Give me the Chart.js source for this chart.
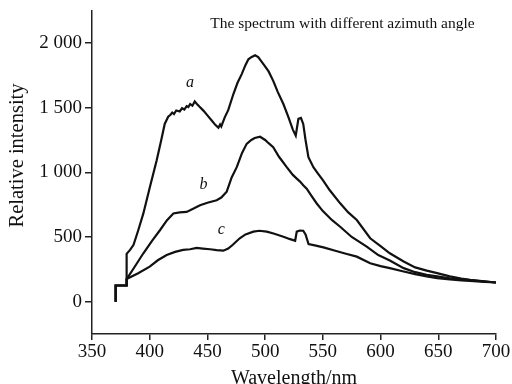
<!DOCTYPE html>
<html>
<head>
<meta charset="utf-8">
<script src="https://cdn.jsdelivr.net/npm/chart.js@4.4.0/dist/chart.umd.min.js"></script>
<style>
  html, body { margin: 0; padding: 0; background: #fff; }
  #wrap { width: 512px; height: 384px; }
</style>
</head>
<body>
<div id="wrap"><canvas id="spectrum" width="512" height="384"></canvas></div>
<script>
// Wavelength (nm) / relative intensity
const waveA = [370.5, 370.5, 380, 380, 383, 386, 390, 394.5, 400, 406, 410, 413, 416, 418, 419.5, 421, 423, 426, 428, 430, 432, 433.5, 435, 437, 439, 440.7, 443, 446.5, 450, 453.7, 457, 459.5, 461, 462, 465, 468, 472.5, 476, 479.7, 483, 485.5, 488, 491.3, 494, 498.5, 503, 507, 511, 515.8, 520, 524, 526.5, 528.8, 531, 533, 535, 537.5, 541.8, 545, 550, 556, 565, 572, 579.4, 591, 600, 608, 620, 630, 640, 649, 660, 670, 677.5, 690, 700];
const intensityA = [0, 125, 125, 370, 400, 440, 550, 682, 880, 1092, 1250, 1374, 1430, 1445, 1462, 1450, 1478, 1470, 1495, 1485, 1512, 1505, 1528, 1515, 1548, 1530, 1508, 1477, 1440, 1400, 1365, 1345, 1370, 1355, 1425, 1480, 1605, 1690, 1759, 1830, 1874, 1890, 1905, 1890, 1836, 1780, 1707, 1620, 1528, 1430, 1330, 1284, 1413, 1420, 1374, 1250, 1117, 1040, 1000, 940, 861, 760, 690, 631, 490, 430, 374, 310, 265, 240, 221, 195, 178, 169, 157, 148];

const waveB = [370.5, 370.5, 380, 380, 387, 394.5, 402, 409, 415, 420.5, 426, 432, 438, 443.6, 450, 458, 462, 466.7, 471, 475.4, 480, 484, 488, 491, 495.6, 500, 503, 507, 512, 518.7, 524, 527.4, 530, 533, 536, 540, 544.7, 550, 558, 565, 575, 588, 598, 608, 620, 630, 640, 649, 660, 670, 677.5, 690, 700];
const intensityB = [0, 125, 125, 175, 270, 374, 470, 554, 630, 682, 690, 694, 720, 746, 765, 784, 805, 850, 960, 1040, 1150, 1220, 1250, 1265, 1275, 1250, 1225, 1194, 1120, 1040, 980, 951, 930, 900, 874, 820, 759, 700, 630, 579, 500, 425, 360, 318, 259, 228, 208, 195, 180, 172, 166, 156, 148];

const waveC = [370.5, 370.5, 380, 380, 390, 400, 407, 414.7, 422, 429, 435, 440.7, 446, 452.3, 458, 463.8, 468, 472, 478, 483, 489.8, 495, 501.4, 508, 515.8, 521, 526, 527.4, 530, 533, 535, 537.6, 543, 550.5, 560, 570, 579.4, 591, 600, 608, 620, 630, 640, 649, 660, 670, 677.5, 690, 700];
const intensityC = [0, 125, 125, 175, 220, 271, 320, 361, 385, 400, 405, 415, 410, 405, 398, 394, 410, 440, 490, 520, 541, 548, 541, 525, 502, 485, 471, 541, 550, 548, 520, 446, 435, 420, 395, 370, 348, 297, 275, 259, 233, 213, 195, 182, 172, 165, 160, 153, 148];

const curveNames = ['a', 'b', 'c'];
const curveLabelWave = [435, 446.5, 462];
const curveLabelIntensity = [1690, 900, 555];

const xTicks = [350, 400, 450, 500, 550, 600, 650, 700];
const yTicks = [0, 500, 1000, 1500, 2000];

const chartTitle = 'The spectrum with different azimuth angle';
const titleWave = 567;
const titleIntensity = 2150;
const yTitleText = 'Relative intensity';
const yTitleIntensity = 1130;

const serif = '"Liberation Serif", "DejaVu Serif", serif';

function toPoints(xs, ys) {
    return xs.map((x, i) => ({ x: x, y: ys[i] }));
}

function formatThousands(v) {
    return String(v).replace(/\B(?=(\d{3})+(?!\d))/g, ' ');
}

// title, y-axis title and the a/b/c curve labels
const annotationPlugin = {
    id: 'annotations',
    afterDatasetsDraw(chart) {
        const ctx = chart.ctx;
        const xs = chart.scales.x;
        const ys = chart.scales.y;
        ctx.save();
        ctx.fillStyle = '#111';
        ctx.textAlign = 'center';
        ctx.textBaseline = 'middle';
        ctx.font = '15.5px ' + serif;
        ctx.fillText(chartTitle, xs.getPixelForValue(titleWave), ys.getPixelForValue(titleIntensity));
        ctx.font = 'italic 16px ' + serif;
        curveNames.forEach((name, i) => {
            ctx.fillText(name, xs.getPixelForValue(curveLabelWave[i]), ys.getPixelForValue(curveLabelIntensity[i]));
        });
        // y axis title, a bit above the middle of the axis as in the original
        ctx.translate(18, ys.getPixelForValue(yTitleIntensity));
        ctx.rotate(-Math.PI / 2);
        ctx.font = '20.5px ' + serif;
        ctx.fillText(yTitleText, 0, 0);
        ctx.restore();
    }
};

const lineStyle = {
    showLine: true,
    pointRadius: 0,
    borderColor: '#111',
    borderWidth: 2.2,
    tension: 0,
    fill: false
};

const ctx = document.getElementById('spectrum').getContext('2d');
new Chart(ctx, {
    type: 'scatter',
    data: {
        datasets: [
            Object.assign({ label: 'a', data: toPoints(waveA, intensityA) }, lineStyle),
            Object.assign({ label: 'b', data: toPoints(waveB, intensityB) }, lineStyle),
            Object.assign({ label: 'c', data: toPoints(waveC, intensityC) }, lineStyle)
        ]
    },
    options: {
        responsive: false,
        animation: false,
        layout: {
            padding: { top: 9, right: 16, left: 0, bottom: 0 }
        },
        scales: {
            x: {
                type: 'linear',
                min: 350,
                max: 700,
                afterBuildTicks: scale => { scale.ticks = xTicks.map(v => ({ value: v })); },
                afterFit: scale => { scale.height = 50; },
                border: { display: true, color: '#222', width: 1.5 },
                grid: { drawOnChartArea: false, drawTicks: true, tickLength: 6, color: '#222', lineWidth: 1.5 },
                ticks: {
                    color: '#111',
                    padding: 1,
                    maxRotation: 0,
                    font: { family: serif, size: 19 }
                },
                title: {
                    display: true,
                    text: 'Wavelength/nm',
                    color: '#111',
                    padding: { top: 0, bottom: -7 },
                    font: { family: serif, size: 20 }
                }
            },
            y: {
                type: 'linear',
                min: -250,
                max: 2250,
                afterBuildTicks: scale => { scale.ticks = yTicks.map(v => ({ value: v })); },
                afterFit: scale => { scale.width = 92; },
                border: { display: true, color: '#222', width: 1.5 },
                grid: { drawOnChartArea: false, drawTicks: true, tickLength: 7, color: '#222', lineWidth: 1.5 },
                ticks: {
                    color: '#111',
                    padding: 3,
                    callback: v => formatThousands(v),
                    font: { family: serif, size: 19, lineHeight: 0.8 }
                }
            }
        },
        plugins: {
            legend: { display: false },
            tooltip: { enabled: false }
        }
    },
    plugins: [annotationPlugin]
});
</script>
</body>
</html>
